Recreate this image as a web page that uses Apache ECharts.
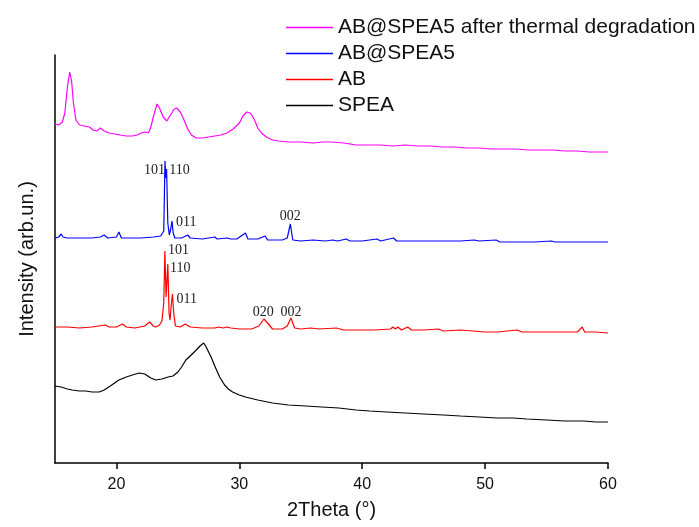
<!DOCTYPE html>
<html>
<head>
<meta charset="utf-8">
<script src="https://cdn.jsdelivr.net/npm/echarts@6/dist/echarts.min.js"></script>
<style>
  html, body { margin: 0; padding: 0; background: #fff; }
  #main { width: 699px; height: 527px; }
</style>
</head>
<body>
<div id="main"></div>
<script>
// ---------- 数据 (2θ, 强度, 已按曲线偏移) ----------
var names = ["AB@SPEA5 after thermal degradation", "AB@SPEA5", "AB", "SPEA"];

var magX = [15.0, 15.3, 15.6, 15.8, 16.0, 16.2, 16.35, 16.5, 16.7, 17.0, 17.4, 17.8, 18.1, 18.4, 18.7, 19.0, 19.4, 19.9, 20.3, 20.8, 21.3, 21.7, 22.0, 22.3, 22.6, 22.8, 23.0, 23.3, 23.5, 23.8, 24.1, 24.4, 24.7, 24.9, 25.2, 25.5, 25.8, 26.1, 26.5, 27.0, 27.5, 28.0, 28.5, 29.0, 29.5, 30.0, 30.3, 30.6, 30.9, 31.2, 31.5, 31.8, 32.2, 32.7, 33.2, 34.0, 35.0, 36.0, 36.8, 37.5, 38.5, 39.5, 40.5, 41.5, 42.5, 43.5, 44.5, 45.5, 46.5, 47.5, 48.5, 49.5, 50.5, 51.5, 52.5, 53.5, 54.5, 55.5, 56.5, 57.5, 58.5, 59.5, 60.0];
var magY = [339, 338, 341, 350, 375, 391, 382, 360, 343, 338, 337, 336, 333, 332, 335, 332, 330, 329, 328, 327, 327, 328, 330, 331, 330, 336, 346, 359, 355, 346, 342, 348, 354, 355, 351, 343, 334, 328, 325, 325, 326, 327, 328, 330, 334, 340, 347, 351, 350, 344, 335, 330, 326, 323, 322, 321, 321, 320, 321, 321, 320, 318, 318, 318, 317, 318, 317, 317, 316, 316, 315, 315, 314, 314, 314, 313, 313, 313, 312, 312, 311, 311, 311];

var bluX = [15.0, 15.3, 15.5, 15.65, 15.8, 16.0, 17.0, 18.0, 18.7, 19.0, 19.3, 20.0, 20.2, 20.4, 21.0, 22.0, 23.0, 23.6, 23.85, 23.95, 24.02, 24.08, 24.18, 24.3, 24.42, 24.52, 24.62, 24.75, 25.3, 25.8, 26.0, 27.0, 28.0, 28.2, 29.0, 29.3, 29.8, 30.5, 30.7, 31.5, 32.1, 32.3, 33.5, 33.9, 34.15, 34.35, 35.0, 36.0, 37.0, 37.6, 38.0, 38.7, 39.0, 40.0, 41.2, 41.5, 42.55, 42.8, 44.0, 45.0, 46.5, 48.0, 49.1, 49.5, 50.9, 51.2, 52.5, 54.0, 55.4, 55.7, 57.0, 58.5, 60.0];
var bluY = [225, 226, 229, 226, 227, 225, 225, 225, 226, 228, 225, 226, 231, 225, 225, 225, 226, 227, 232, 302, 285, 294, 240, 228, 234, 242, 230, 225, 225, 228, 225, 224, 226, 224, 225, 224, 224, 230, 224, 224, 227, 223, 223, 225, 239, 223, 222, 223, 222, 223, 222, 224, 222, 222, 224, 222, 225, 222, 222, 222, 222, 222, 223, 222, 223, 221, 221, 221, 222, 221, 221, 221, 221];

var redX = [15.0, 16.0, 17.0, 18.0, 19.1, 19.4, 20.0, 20.5, 20.8, 21.5, 22.3, 22.7, 23.0, 23.2, 23.5, 23.7, 23.85, 23.94, 24.04, 24.18, 24.28, 24.36, 24.46, 24.56, 24.66, 24.8, 25.2, 25.6, 26.0, 27.0, 28.0, 28.3, 28.7, 29.0, 29.3, 30.0, 31.0, 31.6, 32.0, 32.3, 32.7, 33.5, 33.9, 34.2, 34.5, 35.0, 35.8, 36.5, 37.9, 38.5, 40.0, 41.0, 42.3, 42.5, 42.7, 42.9, 43.2, 43.7, 44.0, 45.0, 46.2, 46.6, 48.0, 49.0, 50.0, 51.0, 52.6, 53.0, 54.5, 56.0, 57.5, 57.9, 58.1, 59.0, 60.0];
var redY = [136, 136, 135, 136, 138, 136, 136, 139, 136, 135, 137, 141, 137, 136, 138, 142, 160, 212, 166, 199, 150, 143, 158, 169, 150, 137, 136, 139, 136, 135, 135, 136, 135, 136, 135, 134, 134, 137, 144, 140, 134, 134, 137, 145, 135, 134, 135, 134, 135, 133, 133, 133, 134, 136, 134, 136, 133, 136, 133, 133, 134, 132, 133, 132, 131, 131, 133, 131, 131, 131, 131, 136, 131, 131, 130];

var blkX = [15.0, 15.5, 16.0, 16.4, 17.0, 17.5, 18.0, 18.6, 19.0, 19.5, 20.2, 20.8, 21.3, 21.85, 22.3, 22.8, 23.2, 23.7, 24.2, 24.6, 25.0, 25.3, 25.65, 26.0, 26.5, 26.8, 27.1, 27.3, 27.5, 27.7, 28.0, 28.4, 28.8, 29.1, 29.45, 30.0, 30.5, 31.5, 32.7, 34.0, 35.4, 36.7, 38.1, 39.5, 40.6, 42.0, 43.5, 45.0, 46.6, 48.0, 49.5, 51.0, 52.3, 53.4, 55.0, 56.5, 58.0, 59.0, 60.0];
var blkY = [77, 76, 74, 73, 72, 72, 71, 71, 73, 77, 83, 86, 88, 90, 89, 85, 83, 84, 86, 87, 91, 96, 103, 107, 113, 117, 120, 116, 111, 106, 97, 86, 78, 74, 71, 68, 66, 63, 60, 58, 57, 56, 55, 53, 52, 51, 50, 49, 48, 47, 46, 45, 45, 44, 43, 42, 42, 41, 41];

// 晶面指数标注
var bluTag = ["101", "110", "011", "002"];
var bluTagX = [23.96, 24.29, 24.84, 34.15];
var bluTagY = [293, 293, 241, 247];
var redTag = ["101", "110", "011", "020", "002"];
var redTagX = [24.2, 24.35, 24.89, 31.95, 34.2];
var redTagY = [213, 195, 164, 151, 151];

var xTicks = [20, 30, 40, 50, 60];

var colors = ["#ff00ff", "#0000ff", "#ff0000", "#000000"];

function zip(xs, ys) {
  var out = [];
  for (var i = 0; i < xs.length; i++) out.push([xs[i], ys[i]]);
  return out;
}

function tags(t, xs, ys, sides) {
  var out = [];
  for (var i = 0; i < t.length; i++) {
    out.push({
      coord: [xs[i], ys[i]],
      value: t[i],
      label: { position: sides[i], distance: 0 },
    });
  }
  return out;
}

var tagLabel = {
  show: true,
  formatter: "{c}",
  color: "#222",
  fontFamily: "Liberation Serif",
  fontSize: 14,
};

var chart = echarts.init(document.getElementById("main"), null, { renderer: "canvas" });

var option = {
  animation: false,
  backgroundColor: "#fff",
  grid: { left: 55, right: 91, top: 55, bottom: 64 },
  legend: {
    data: names,
    orient: "vertical",
    left: 286,
    top: 17,
    padding: 0,
    icon: "rect",
    itemWidth: 47,
    itemHeight: 1.5,
    itemGap: 5,
    textStyle: { fontFamily: "Liberation Sans", fontSize: 21, color: "#111" },
  },
  xAxis: {
    type: "value",
    min: 15,
    max: 60,
    name: "2Theta (°)",
    nameLocation: "middle",
    nameGap: 37,
    nameTextStyle: { fontFamily: "Liberation Sans", fontSize: 20, color: "#111" },
    axisLine: { show: true, lineStyle: { color: "#000", width: 1.5 } },
    axisTick: { show: true, customValues: xTicks, length: 6, lineStyle: { color: "#000", width: 1.5 } },
    axisLabel: { customValues: xTicks, margin: 14, fontFamily: "Liberation Sans", fontSize: 16, color: "#111" },
    splitLine: { show: false },
  },
  yAxis: {
    type: "value",
    min: 0,
    max: 408,
    name: "Intensity (arb.un.)",
    nameLocation: "middle",
    nameGap: 18,
    nameTextStyle: { fontFamily: "Liberation Sans", fontSize: 20, color: "#111" },
    axisLine: { show: true, lineStyle: { color: "#000", width: 1.5 } },
    axisTick: { show: false },
    axisLabel: { show: false },
    splitLine: { show: false },
  },
  series: [
    {
      name: names[0], type: "line", symbol: "none", data: zip(magX, magY),
      lineStyle: { color: colors[0], width: 1.2 }, itemStyle: { color: colors[0] },
    },
    {
      name: names[1], type: "line", symbol: "none", data: zip(bluX, bluY),
      lineStyle: { color: colors[1], width: 1.2 }, itemStyle: { color: colors[1] },
      markPoint: {
        symbol: "circle", symbolSize: 0, label: tagLabel,
        data: tags(bluTag, bluTagX, bluTagY, ["left", "right", "right", "inside"]),
      },
    },
    {
      name: names[2], type: "line", symbol: "none", data: zip(redX, redY),
      lineStyle: { color: colors[2], width: 1.2 }, itemStyle: { color: colors[2] },
      markPoint: {
        symbol: "circle", symbolSize: 0, label: tagLabel,
        data: tags(redTag, redTagX, redTagY, ["right", "right", "right", "inside", "inside"]),
      },
    },
    {
      name: names[3], type: "line", symbol: "none", data: zip(blkX, blkY),
      lineStyle: { color: colors[3], width: 1.2 }, itemStyle: { color: colors[3] },
    },
  ],
};

chart.setOption(option);
</script>
</body>
</html>
